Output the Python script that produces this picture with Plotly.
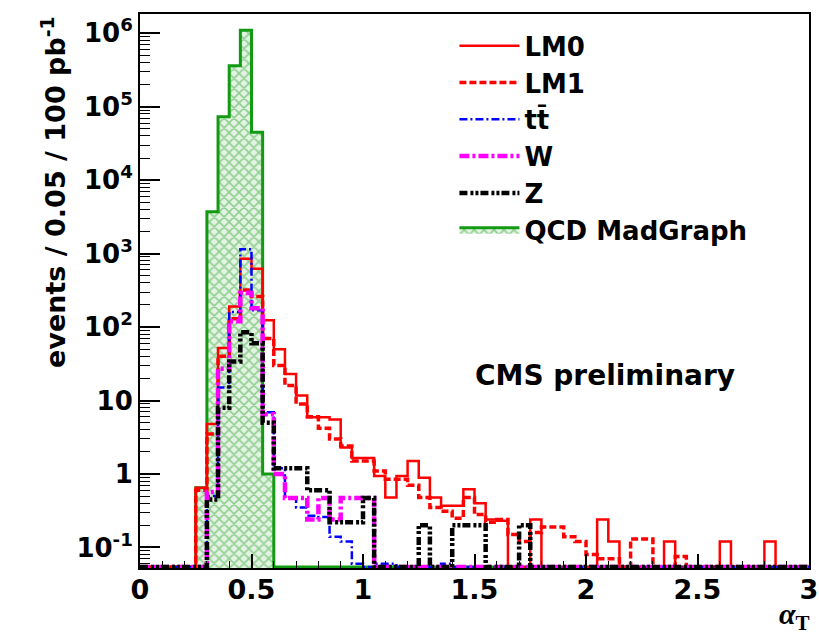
import numpy as np
import plotly.graph_objects as go

# ---------------- data (bins of 0.05 in alpha_T, 0 .. 3) ----------------
bin_width = 0.05
n_bins = 60

lm0 = [0, 0, 0, 0, 0,
       0.65, 4.8, 52, 190, 850,
       620, 124, 50, 23, 11.7,
       5.9, 5.9, 5.5, 2.3, 1.65,
       1.65, 0.94, 0.48, 0.94, 1.5,
       0.89, 0.48, 0.37, 0.37, 0.62,
       0.40, 0.24, 0.23, 0, 0,
       0.24, 0, 0, 0, 0,
       0, 0.24, 0.12, 0, 0,
       0, 0, 0.12, 0, 0,
       0, 0, 0.12, 0, 0,
       0, 0.12, 0, 0, 0]

lm1 = [0, 0, 0, 0, 0,
       0.6, 3.5, 40, 130, 320,
       260, 70, 30, 16, 9,
       6, 4.2, 3, 2.4, 1.5,
       1.5, 1.1, 0.85, 0.85, 0.7,
       0.48, 0.35, 0.31, 0.25, 0.48,
       0.28, 0.22, 0.24, 0.15, 0.12,
       0.16, 0.19, 0.19, 0.14, 0.12,
       0.08, 0.07, 0.07, 0, 0.13,
       0.13, 0, 0, 0.075, 0,
       0, 0, 0, 0, 0,
       0, 0, 0, 0, 0]

ttbar = [0, 0, 0, 0, 0,
         0, 0.5, 15, 160, 1150,
         170, 6.9, 1.2, 0.47, 0.35,
         0.27, 0.26, 0.14, 0.12, 0.06,
         0, 0.06, 0.06, 0, 0,
         0, 0, 0.06, 0, 0,
         0, 0, 0, 0, 0,
         0, 0, 0, 0, 0,
         0, 0, 0, 0, 0,
         0, 0, 0, 0, 0,
         0, 0, 0, 0, 0,
         0, 0, 0, 0, 0]

wjets = [0, 0, 0, 0, 0,
         0, 0.57, 27, 120, 290,
         180, 6.5, 1.0, 0.47, 0.47,
         0.24, 0.47, 0.24, 0.47, 0.47,
         0.47, 0, 0, 0, 0,
         0, 0, 0, 0, 0,
         0, 0, 0, 0, 0,
         0, 0, 0, 0, 0,
         0, 0, 0, 0, 0,
         0, 0, 0, 0, 0,
         0, 0, 0, 0, 0,
         0, 0, 0, 0, 0]

zjets = [0, 0, 0, 0, 0,
         0, 0.45, 8, 34, 85,
         60, 5, 1.2, 1.2, 1.2,
         0.6, 0.6, 0.22, 0.22, 0.22,
         0.47, 0, 0, 0, 0,
         0.2, 0, 0, 0.2, 0.2,
         0.2, 0, 0, 0, 0.2,
         0, 0, 0, 0, 0,
         0, 0, 0, 0, 0,
         0, 0, 0, 0, 0,
         0, 0, 0, 0, 0,
         0, 0, 0, 0, 0]

qcd = [0, 0, 0, 0, 0,
       0.65, 3700, 73000, 360000, 1100000,
       45000, 1.0, 0, 0, 0,
       0, 0, 0, 0, 0,
       0, 0, 0, 0, 0,
       0, 0, 0, 0, 0,
       0, 0, 0, 0, 0,
       0, 0, 0, 0, 0,
       0, 0, 0, 0, 0,
       0, 0, 0, 0, 0,
       0, 0, 0, 0, 0,
       0, 0, 0, 0, 0]

x_ticks = [0, 0.5, 1, 1.5, 2, 2.5, 3]
x_ticktext = ["0", "0.5", "1", "1.5", "2", "2.5", "3"]
y_ticks = [0.1, 1, 10, 100, 1000, 1e4, 1e5, 1e6]
y_ticktext = ["10<sup>-1</sup>", "1", "10", "10<sup>2</sup>", "10<sup>3</sup>",
              "10<sup>4</sup>", "10<sup>5</sup>", "10<sup>6</sup>"]

for arr in (lm0, lm1, ttbar, wjets, zjets, qcd):
    assert len(arr) == n_bins

# ---------------- figure ----------------
Y_LOG_MIN, Y_LOG_MAX = -1.28, 6.262
FLOOR = 10 ** (Y_LOG_MIN + 0.012)
edges = np.round(np.arange(n_bins + 1) * bin_width, 3)


def step_xy(vals):
    v = np.maximum(np.asarray(vals, dtype=float), FLOOR)
    return edges, np.append(v, v[-1])


FONT = "DejaVu Sans"
fig = go.Figure()

# QCD (drawn first, underneath)
xq, yq = step_xy(qcd)
fig.add_trace(go.Scatter(
    x=xq, y=yq, mode="lines", line=dict(shape="hv", color="#129a12", width=3),
    fill="tozeroy", fillcolor="rgba(0,0,0,0)",
    fillpattern=dict(shape="x", fgcolor="#3ea83e", bgcolor="#e4f4e4", size=7, solidity=0.4),
    name="QCD MadGraph", legendrank=6, legendgroup="qcd"))

styles = [
    (lm0, "LM0", "#ff0000", 2.5, "solid"),
    (lm1, "LM1", "#ff0000", 3.5, "7px,3px"),
    (ttbar, "tt\u0304", "#0000ff", 2.5, "8px,3px,2px,3px"),
    (wjets, "W", "#ff00ff", 4.5, "10px,3px,3px,3px"),
    (zjets, "Z", "#000000", 4.5, "8px,3px,3px,2px,3px,2px"),
]
for rank, (vals, name, col, w, dash) in enumerate(styles, start=1):
    xs, ys = step_xy(vals)
    fig.add_trace(go.Scatter(
        x=xs, y=ys, mode="lines", line=dict(shape="hv", color=col, width=w, dash=dash),
        name=name, legendrank=rank, legendgroup=name))

minor_y = [k * 10.0 ** n for n in range(-2, 7) for k in range(2, 10)
           if Y_LOG_MIN <= np.log10(k * 10.0 ** n) <= Y_LOG_MAX]

fig.update_layout(
    width=819, height=641,
    margin=dict(l=140, r=10, t=14, b=73, autoexpand=False),
    paper_bgcolor="white", plot_bgcolor="white",
    font=dict(family=FONT, size=26, color="black", weight="bold"),
    showlegend=True,
    legend=dict(x=0.47, y=0.985, xanchor="left", yanchor="top",
                bgcolor="rgba(255,255,255,0)", borderwidth=0,
                font=dict(family=FONT, size=26, weight="bold"),
                tracegroupgap=11, itemwidth=60, traceorder="normal"),
    xaxis=dict(range=[0, 3], showgrid=False, zeroline=False, automargin=False,
               showline=True, linecolor="black", linewidth=2, mirror=True,
               ticks="inside", ticklen=14, tickwidth=1.5, tickcolor="black",
               tickmode="array", tickvals=x_ticks, ticktext=x_ticktext,
               tickfont=dict(family=FONT, size=27, weight="bold"),
               ticklabelstandoff=-3,
               minor=dict(ticks="inside", ticklen=7, tickwidth=1, tickcolor="black",
                          dtick=0.1, tick0=0, showgrid=False)),
    yaxis=dict(type="log", range=[Y_LOG_MIN, Y_LOG_MAX], showgrid=False, zeroline=False,
               automargin=False,
               showline=True, linecolor="black", linewidth=2, mirror=True,
               ticks="inside", ticklen=20, tickwidth=1.5, tickcolor="black",
               tickmode="array", tickvals=y_ticks, ticktext=y_ticktext,
               tickfont=dict(family=FONT, size=26, weight="bold"),
               minor=dict(ticks="inside", ticklen=10, tickwidth=1, tickcolor="black",
                          tickmode="array", tickvals=minor_y, showgrid=False)),
)

fig.add_annotation(x=-0.13, y=1.0, xref="paper", yref="paper",
                   xanchor="center", yanchor="top", textangle=-90,
                   text="events / 0.05 / 100 pb<sup>-1</sup>", showarrow=False,
                   font=dict(family=FONT, size=27, weight="bold", color="black"))
fig.add_annotation(x=0.695, y=0.348, xref="paper", yref="paper",
                   xanchor="center", yanchor="middle",
                   text="CMS preliminary", showarrow=False,
                   font=dict(family=FONT, size=28, weight="bold", color="black"))
fig.add_annotation(x=1.005, y=-0.124, xref="paper", yref="paper",
                   xanchor="right", yanchor="bottom",
                   text="<i>α</i><sub>T</sub>", showarrow=False,
                   font=dict(family="Liberation Serif", size=30, color="black"))

fig.write_html("out.html")
